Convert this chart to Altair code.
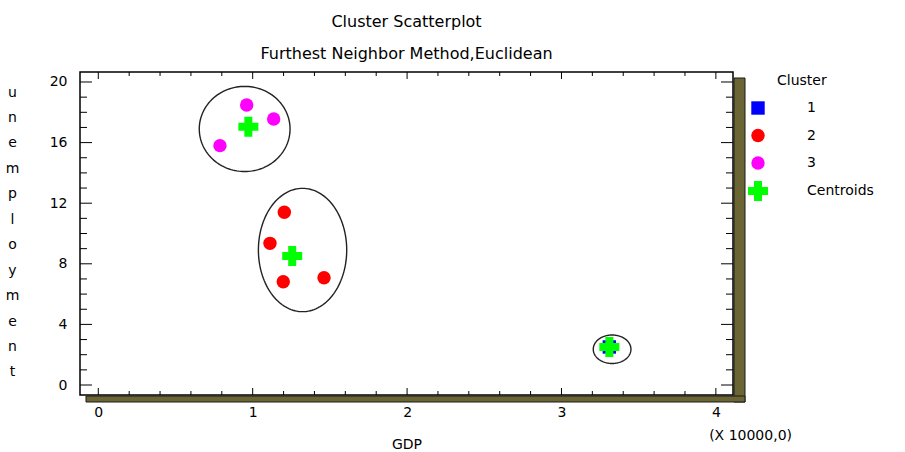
import altair as alt
import numpy as np
import pandas as pd

# ---------------- data ----------------
cluster_ids = ["1", "2", "3"]
c1_gdp = [3.31]
c1_unemp = [2.51]
c2_gdp = [1.205, 1.112, 1.198, 1.462]
c2_unemp = [11.40, 9.35, 6.82, 7.08]
c3_gdp = [0.961, 1.136, 0.788]
c3_unemp = [18.48, 17.56, 15.80]
centroid_gdp = [3.31, 1.256, 0.972]
centroid_unemp = [2.51, 8.51, 17.05]
# ellipses drawn around each cluster (centre and half-axes, data units)
ell_cx = [3.328, 1.323, 0.948]
ell_cy = [2.36, 8.91, 16.90]
ell_rx = [0.122, 0.286, 0.294]
ell_ry = [0.94, 4.07, 2.81]
# axes
x_major = [0, 1, 2, 3, 4]
y_major = [0, 4, 8, 12, 16, 20]
y_title_letters = list("unemployment")

# ---------------- style ----------------
W, H = 653, 323
FONT = "DejaVu Sans"
SHADOW = "#6b6535"
clust_colors = ["#0000ff", "#ff0000", "#ff00ff"]
clust_shapes = ["square", "circle", "circle"]

xscale = alt.Scale(domain=[-0.1185, 4.111], nice=False, zero=False)
yscale = alt.Scale(domain=[-0.66, 20.66], nice=False, zero=False)

pts = pd.DataFrame({
    "gdp": c1_gdp + c2_gdp + c3_gdp,
    "unemp": c1_unemp + c2_unemp + c3_unemp,
    "cluster": ["1"] * len(c1_gdp) + ["2"] * len(c2_gdp) + ["3"] * len(c3_gdp),
})
cent = pd.DataFrame({"gdp": centroid_gdp, "unemp": centroid_unemp, "what": ["Centroids"] * 3})

theta = np.linspace(0, 2 * np.pi, 145)
ell_rows = []
for i in range(len(ell_cx)):
    for j, t in enumerate(theta):
        ell_rows.append({"gdp": ell_cx[i] + ell_rx[i] * np.cos(t),
                         "unemp": ell_cy[i] + ell_ry[i] * np.sin(t),
                         "ell": i, "k": j})
ells = pd.DataFrame(ell_rows)

x_all = np.round(np.arange(0, 4.0001, 0.2), 2)
x_minor = [float(v) for v in x_all if abs(v - round(v)) > 1e-6]
y_minor = [v for v in range(0, 21) if v % 4 != 0]

x_axis = alt.Axis(values=x_major, format="d", ticks=False, domain=False, grid=False,
                  labelFont=FONT, labelFontSize=14, labelColor="black", labelPadding=10,
                  title="GDP", titleFont=FONT, titleFontSize=14, titleFontWeight="normal",
                  titleColor="black", titleBaseline="middle", titleY=49)
y_axis = alt.Axis(values=y_major, format="d", ticks=False, domain=False, grid=False,
                  labelFont=FONT, labelFontSize=14, labelColor="black", labelPadding=13,
                  title=y_title_letters, titleAngle=0, titleFont=FONT, titleFontSize=14,
                  titleFontWeight="normal", titleColor="black", titleLineHeight=25.45,
                  titleAlign="center", titleBaseline="middle", titleX=-68, titleY=20)

X = lambda: alt.X("gdp:Q", scale=xscale, axis=x_axis)
Y = lambda: alt.Y("unemp:Q", scale=yscale, axis=y_axis)

ellipse_layer = alt.Chart(ells).mark_line(color="#222222", strokeWidth=1.4).encode(
    x=X(), y=Y(), detail="ell:N", order="k:Q")

clus_legend = alt.Legend(title=None, orient="none", legendX=671, legendY=29,
                         labelFont=FONT, labelFontSize=14, labelColor="black",
                         labelOffset=42, rowPadding=13.5, symbolSize=180,
                         symbolOpacity=1, symbolStrokeWidth=0, padding=0)
point_layer = alt.Chart(pts).mark_point(filled=True, opacity=1, size=180).encode(
    x=X(), y=Y(),
    color=alt.Color("cluster:N", scale=alt.Scale(domain=cluster_ids, range=clust_colors),
                    legend=clus_legend),
    shape=alt.Shape("cluster:N", scale=alt.Scale(domain=cluster_ids, range=clust_shapes),
                    legend=clus_legend),
)

cent_legend = alt.Legend(title=None, orient="none", legendX=668, legendY=109,
                         labelFont=FONT, labelFontSize=14, labelColor="black",
                         labelOffset=39, symbolSize=400, symbolOpacity=1,
                         symbolStrokeWidth=0, padding=0)
centroid_layer = alt.Chart(cent).mark_point(filled=True, opacity=1, size=400).encode(
    x=X(), y=Y(),
    color=alt.Color("what:N", scale=alt.Scale(domain=["Centroids"], range=["#00ff00"]),
                    legend=cent_legend),
    shape=alt.Shape("what:N", scale=alt.Scale(domain=["Centroids"], range=["cross"]),
                    legend=cent_legend),
)

# frame ticks (pointing inward on all four sides)
def xticks(vals, y0, y1):
    return alt.Chart(pd.DataFrame({"gdp": vals})).mark_rule(color="black", strokeWidth=1).encode(
        x=X(), y=alt.value(y0), y2=alt.value(y1))

def yticks(vals, x0, x1):
    return alt.Chart(pd.DataFrame({"unemp": vals})).mark_rule(color="black", strokeWidth=1).encode(
        y=Y(), x=alt.value(x0), x2=alt.value(x1))

tick_layers = [
    xticks(x_major, H, H - 7), xticks(x_minor, H, H - 4),
    xticks(x_major, 0, 7), xticks(x_minor, 0, 4),
    yticks(y_major, 0, 12), yticks(y_minor, 0, 7),
    yticks(y_major, W, W - 12), yticks(y_minor, W, W - 7),
]

one = pd.DataFrame({"a": [0]})
shadow_right = alt.Chart(one).mark_rect(color=SHADOW, stroke="#1a1a1a", strokeWidth=1).encode(
    x=alt.value(W + 1), x2=alt.value(W + 12), y=alt.value(6), y2=alt.value(H + 7))
shadow_bottom = alt.Chart(one).mark_rect(color=SHADOW, stroke="#1a1a1a", strokeWidth=1).encode(
    x=alt.value(6), x2=alt.value(W + 12), y=alt.value(H + 1), y2=alt.value(H + 7))

scale_note = alt.Chart(pd.DataFrame({"t": ["(X 10000,0)"]})).mark_text(
    font=FONT, fontSize=14, color="black", align="right", baseline="middle").encode(
    text="t:N", x=alt.value(712), y=alt.value(364))
legend_title = alt.Chart(pd.DataFrame({"t": ["Cluster"]})).mark_text(
    font=FONT, fontSize=14, color="black", align="left", baseline="middle").encode(
    text="t:N", x=alt.value(697), y=alt.value(9))

chart = alt.layer(
    shadow_right, shadow_bottom, ellipse_layer, *tick_layers,
    point_layer, centroid_layer, scale_note, legend_title,
).resolve_scale(color="independent", shape="independent").properties(
    width=W, height=H,
    title=alt.Title("Cluster Scatterplot", subtitle="Furthest Neighbor Method,Euclidean",
                    font=FONT, fontSize=16, fontWeight="normal", color="black",
                    subtitleFont=FONT, subtitleFontSize=16, subtitleColor="black",
                    anchor="middle", offset=10, subtitlePadding=16),
    autosize=alt.AutoSizeParams(type="none"),
    padding={"left": 80, "top": 72, "right": 172, "bottom": 57},
    background="white",
).configure_view(stroke="black", strokeWidth=1.5)

chart.save("out.html", embed_options={"renderer": "svg", "actions": False})
